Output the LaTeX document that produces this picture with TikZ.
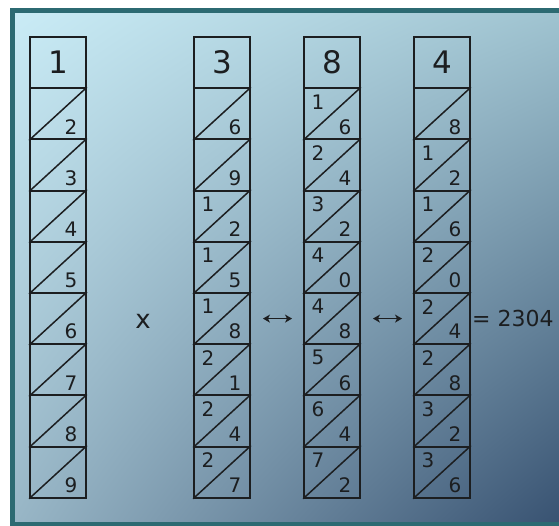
\documentclass[tikz,border=0pt]{standalone}
\usepackage{fontspec}
\setmainfont{DejaVu Sans}
\usetikzlibrary{arrows.meta,calc,shadings}
\definecolor{framec}{RGB}{44,106,114}
\definecolor{inkc}{RGB}{28,30,32}
\definecolor{skyul}{RGB}{202,236,246}
\definecolor{skyur}{RGB}{158,194,207}
\definecolor{skyll}{RGB}{152,182,198}
\definecolor{skylr}{RGB}{52,78,110}
\tikzset{
  bone/.style      = {draw=inkc, line width=1.9pt, minimum width=56pt, minimum height=51.2pt,
                      inner sep=0pt, font=\fontsize{31}{31}\selectfont, text=inkc},
  slash/.style     = {draw=inkc, line width=1.5pt},
  unitdigit/.style = {font=\fontsize{20}{20}\selectfont, text=inkc, inner sep=0pt},
  tensdigit/.style = {font=\fontsize{20}{20}\selectfont, text=inkc, inner sep=0pt},
  sign/.style      = {font=\fontsize{22}{22}\selectfont, text=inkc, inner sep=1pt},
  swap/.style      = {{Stealth[length=7pt,width=8pt,inset=2pt]}-{Stealth[length=7pt,width=8pt,inset=2pt]},
                      draw=inkc, line width=1.6pt, shorten <=12pt, shorten >=11pt},
}

\begin{document}
\begin{tikzpicture}[x=1pt,y=-1pt]

% --- background and frame -----------------------------------------------
\useasboundingbox (0,0) rectangle (559,526);
\clip (0,0) rectangle (559,526);
\shade[upper left=skyul, upper right=skyur, lower left=skyll, lower right=skylr]
  (12.5,10.5) rectangle (580,524.5);
\draw[framec, line width=5pt] (12.5,10.5) rectangle (580,524.5);

% --- the bones -----------------------------------------------------------
\foreach \c/\x in {1/58, 3/222, 8/332, 4/442} {
  \node[bone] (h\c) at (\x,62.6) {\c};
  \foreach \k in {2,...,9} {
    \pgfmathtruncatemacro\p{\c*\k}
    \pgfmathtruncatemacro\tens{\p/10}
    \pgfmathtruncatemacro\unit{\p-10*\tens}
    \pgfmathsetmacro\yc{37+51.2*(\k-1)+25.6}
    \node[bone] (b\c-\k) at (\x,\yc) {};
    \draw[slash] (b\c-\k.south west) -- (b\c-\k.north east);
    \node[unitdigit] (u\c-\k) at ($(b\c-\k.center)+(13,13)$) {\unit};
    \ifnum\p>9
      \node[tensdigit] (t\c-\k) at ($(b\c-\k.center)+(-14,-12)$) {\tens};
    \fi
  }
}

% --- signs ---------------------------------------------------------------
\node[sign, font=\fontsize{26}{26}\selectfont] (times) at (143,321) {x};
\draw[swap] (b3-6) -- (b8-6);
\draw[swap] (b8-6) -- (b4-6);
\node[sign, anchor=west] (prod) at (b4-6.east) {= 2304};

\end{tikzpicture}
\end{document}
